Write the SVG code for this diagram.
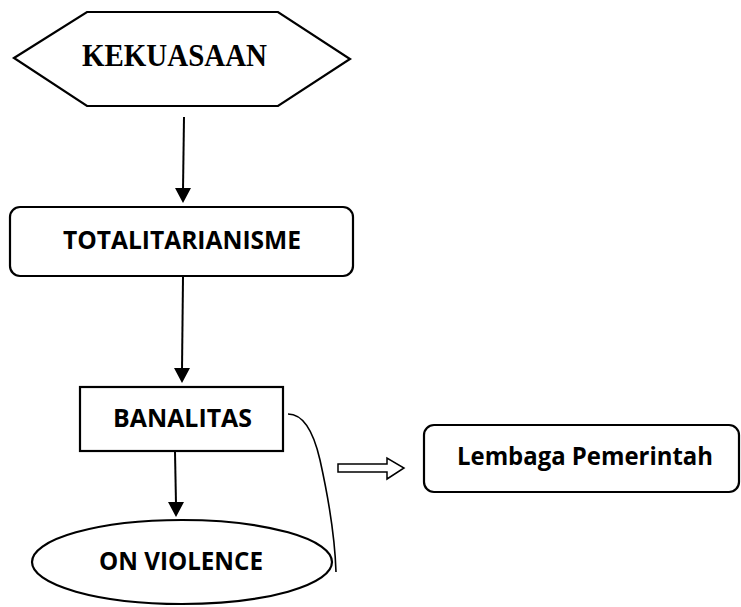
<svg xmlns="http://www.w3.org/2000/svg" width="741" height="607" viewBox="0 0 741 607">
<style>
.shape{fill:#fff;stroke:#000;stroke-width:2.2}
.lbl{font-family:"Open Sans",Lato,"Liberation Sans",sans-serif;font-weight:bold;font-size:25.5px;fill:#000;text-anchor:middle}
.serif{font-family:"Liberation Serif","Times New Roman",serif;font-weight:bold;font-size:31px;fill:#000;text-anchor:middle}
.line{fill:none;stroke:#000;stroke-width:2}
.head{fill:#000;stroke:none}
</style>
<rect width="741" height="607" fill="#fff"/>
<g id="connectors">
<line class="line" x1="184" y1="117" x2="183" y2="190"/>
<polygon class="head" points="175,188 191,188 183,203"/>
<line class="line" x1="183" y1="277" x2="182" y2="370"/>
<polygon class="head" points="174,368 190,368 182,383"/>
<line class="line" x1="175" y1="452" x2="176" y2="504"/>
<polygon class="head" points="168,502 184,502 176,517"/>
<path d="M288,414 C300,414 312,425 320,460 C330,505 335,540 336,572" fill="none" stroke="#000" stroke-width="1.6"/>
<polygon points="338,464 387,464 387,458 404,468 387,479 387,472 338,472" fill="#fff" stroke="#000" stroke-width="1.5"/>
</g>
<g id="kekuasaan">
<polygon class="shape" points="14,58 87,12 278,12 350,59 278,106 87,106"/>
<text class="serif" x="174.5" y="66" textLength="185" lengthAdjust="spacingAndGlyphs">KEKUASAAN</text>
</g>
<g id="totalitarianisme">
<rect class="shape" x="10" y="207" width="343" height="69" rx="10"/>
<text class="lbl" x="182" y="249" textLength="238" lengthAdjust="spacingAndGlyphs">TOTALITARIANISME</text>
</g>
<g id="banalitas">
<rect class="shape" x="80" y="387" width="203" height="64"/>
<text class="lbl" x="182.5" y="427" textLength="139" lengthAdjust="spacingAndGlyphs">BANALITAS</text>
</g>
<g id="on-violence">
<ellipse class="shape" cx="182" cy="562" rx="150" ry="42"/>
<text class="lbl" x="181" y="570" textLength="164" lengthAdjust="spacingAndGlyphs">ON VIOLENCE</text>
</g>
<g id="lembaga">
<rect class="shape" x="424" y="425" width="315" height="67" rx="10"/>
<text class="lbl" x="585" y="465" textLength="256" lengthAdjust="spacingAndGlyphs">Lembaga Pemerintah</text>
</g>
</svg>
